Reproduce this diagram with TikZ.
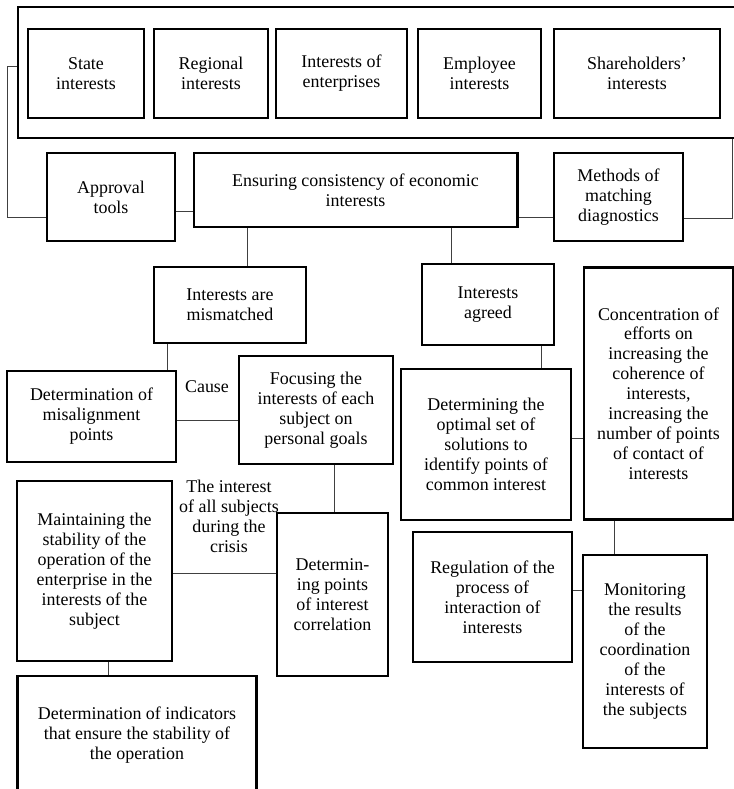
\documentclass[tikz,border=0pt]{standalone}
\usepackage{fontspec}
\setmainfont{Liberation Serif}
\begin{document}
\begin{tikzpicture}[x=1bp,y=-1bp,
  box/.style={draw, line width=2.2bp, rectangle, align=center, inner sep=0pt,
    font=\fontsize{18}{20}\selectfont},
  conn/.style={line width=1bp, black!75},
  lbl/.style={align=center, inner sep=0pt, font=\fontsize{18}{20}\selectfont}]
\useasboundingbox (0,0) rectangle (734,789);
% outer frame
\node[box, minimum width=720, minimum height=131] (outer) at (377,72.5) {};
% top row
\node[box, minimum width=116, minimum height=89] (state) at (86,73.5) {State\\interests};
\node[box, minimum width=114, minimum height=89] (regional) at (211,73.5) {Regional\\interests};
\node[box, minimum width=131, minimum height=89, text depth=4bp] (enterprises) at (341.5,73.5) {Interests of\\enterprises};
\node[box, minimum width=123, minimum height=89] (employee) at (479.5,73.5) {Employee\\interests};
\node[box, minimum width=166, minimum height=89] (shareholders) at (637,73.5) {Shareholders'\\interests};
% second row
\node[box, minimum width=128, minimum height=88] (approval) at (111,197) {Approval\\tools};
\node[box, minimum width=325, minimum height=74] (ensuring) at (355.5,190) {Ensuring consistency of economic\\interests};
\node[box, minimum width=129, minimum height=88] (methods) at (618.5,197) {Methods of\\matching\\diagnostics};
% third row
\node[box, minimum width=152, minimum height=76] (mismatched) at (230,305) {Interests are\\mismatched};
\node[box, minimum width=132, minimum height=81] (agreed) at (488,304.5) {Interests\\agreed};
\node[box, minimum width=149, minimum height=253] (concentration) at (658.5,393.5) {Concentration of\\efforts on\\increasing the\\coherence of\\interests,\\increasing the\\number of points\\of contact of\\interests};
\node[box, minimum width=169, minimum height=91] (misalign) at (91.5,416.5) {Determination of\\misalignment\\points};
\node[box, minimum width=154, minimum height=108] (focusing) at (316,410) {Focusing the\\interests of each\\subject on\\personal goals};
\node[box, minimum width=170, minimum height=151] (optimal) at (486,444.5) {Determining the\\optimal set of\\solutions to\\identify points of\\common interest};
\node[box, minimum width=155, minimum height=180] (maintaining) at (94.5,571) {Maintaining the\\stability of the\\operation of the\\enterprise in the\\interests of the\\subject};
\node[box, minimum width=111, minimum height=163] (determing) at (332.5,594.5) {Determin-\\ing points\\of interest\\correlation};
\node[box, minimum width=240, minimum height=119] (indicators) at (137,735.5) {Determination of indicators\\that ensure the stability of\\the operation};
\node[box, minimum width=159, minimum height=130] (regulation) at (492.5,597) {Regulation of the\\process of\\interaction of\\interests};
\node[box, minimum width=124, minimum height=193] (monitoring) at (645,651.5) {Monitoring\\the results\\of the\\coordination\\of the\\interests of\\the subjects};
% labels
\node[lbl] (cause) at (207,387) {Cause};
\node[lbl] (crisis) at (229,516) {The interest\\of all subjects\\during the\\crisis};
% connectors
\draw[conn] (outer.west |- 0,67) -| (7,217) -- (approval.west |- 0,217);
\draw[conn] (approval.east |- 0,211) -- (ensuring.west |- 0,211);
\draw[conn] (ensuring.east |- 0,217) -- (methods.west |- 0,217);
\draw[conn] (methods.east |- 0,218) -| (outer.south -| 732,0);
\draw[conn] (ensuring.south -| 247,0) -- (mismatched.north -| 247,0);
\draw[conn] (ensuring.south -| 451,0) -- (agreed.north -| 451,0);
\draw[conn] (mismatched.south -| 167,0) -- (misalign.north -| 167,0);
\draw[conn] (agreed.south -| 541,0) -- (optimal.north -| 541,0);
\draw[conn] (misalign.east |- 0,420) -- (focusing.west |- 0,420);
\draw[conn] (optimal.east |- 0,438) -- (concentration.west |- 0,438);
\draw[conn] (focusing.south -| 334,0) -- (determing.north -| 334,0);
\draw[conn] (maintaining.east |- 0,573) -- (determing.west |- 0,573);
\draw[conn] (maintaining.south -| 108,0) -- (indicators.north -| 108,0);
\draw[conn] (concentration.south -| 614,0) -- (monitoring.north -| 614,0);
\draw[conn] (regulation.east |- 0,590) -- (monitoring.west |- 0,590);
\end{tikzpicture}
\end{document}
